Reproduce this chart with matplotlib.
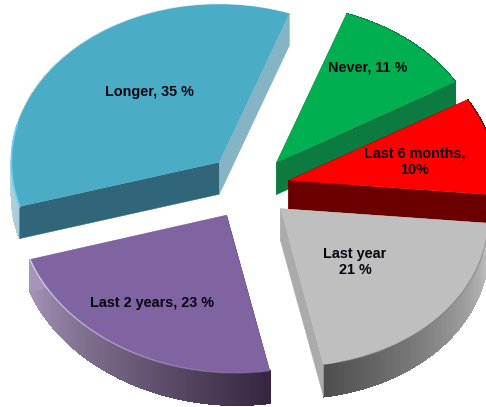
'''Exploded 3D style pie chart, pie() squashed by the axes limits'''

import numpy as np
import matplotlib
matplotlib.use('Agg')
import matplotlib.pyplot as plt
from matplotlib.colors import to_rgb
from matplotlib.patches import Polygon
from matplotlib.transforms import Affine2D

# data, clockwise from the top
labels = ['Never, 11 %', 'Last 6 months,\n10%', 'Last year\n21 %', 'Last 2 years, 23 %', 'Longer, 35 %']
values = [11, 10, 21, 23, 35]

# colours: top surface, the two flat cut faces, ends of the rim gradient
top_colors = ['#00B050', '#FF0000', '#BFBFBF', '#8064A2', '#4BACC6']
low_face = ['#0B7B40', '#6B0000', '#ABABAB', '#A595B8', '#85B4C4']
high_face = ['#0B7B40', '#6B0000', '#C4C4C4', '#37263F', '#31667A']
rim_from = ['#0B7B40', '#6B0000', '#4E4E4E', '#A595B8', '#FFFFFF']
rim_to = ['#0B7B40', '#6B0000', '#C4C4C4', '#37263F', '#A8CCD8']

# layout in pixels of the 486x407 picture
W, H = 486, 407
cx, cy = 250, 187
R = 208
squash = 0.76
depth_px = 32
depth = depth_px / (R * squash)
explode = [0.2, 0.19, 0.2, 0.21, 0.215]
label_px = [(368, 67), (415, 162), (355, 262), (152, 303), (149, 92)]
# the lower slices lean right a bit, perspective of the original
lean = [0, 0, 0.05, 0.05, 0]

plt.rcParams['font.family'] = ['Liberation Sans', 'DejaVu Sans']

fig = plt.figure(figsize=(W / 100, H / 100), dpi=100)
ax = fig.add_axes([0, 0, 1, 1])
wedges, _ = ax.pie(values, explode=explode, startangle=70.3, counterclock=False)
ax.set_aspect('auto')
ax.set_xlim(-cx / R, (W - cx) / R)
ax.set_ylim((cy - H) / (R * squash), cy / (R * squash))


def rim_point(w, theta, s):
    t = np.radians(theta)
    x = w.center[0] + w.r * np.cos(t)
    y = w.center[1] + w.r * np.sin(t)
    return x - s * (y - w.center[1]), y


def face(w, theta, s, color, z):
    x, y = rim_point(w, theta, s)
    x0, y0 = w.center
    pts = [(x0, y0), (x, y), (x, y - depth), (x0, y0 - depth)]
    ax.add_patch(Polygon(pts, closed=True, fc=color, ec=color, lw=0.3, zorder=z))


# slices in back to front order
order = [4, 0, 1, 3, 2]
for z, i in enumerate(order):
    w = wedges[i]
    s = lean[i]
    base = z * 10 + 1

    # rim is a strip of small quads so it can carry a gradient
    thetas = np.linspace(w.theta1, w.theta2, 90)
    c0, c1 = np.array(to_rgb(rim_from[i])), np.array(to_rgb(rim_to[i]))
    for n in range(len(thetas) - 1):
        x1, y1 = rim_point(w, thetas[n], s)
        x2, y2 = rim_point(w, thetas[n + 1], s)
        col = c0 + (c1 - c0) * n / (len(thetas) - 2)
        ax.add_patch(Polygon([(x1, y1), (x2, y2), (x2, y2 - depth), (x1, y1 - depth)],
                             closed=True, fc=col, ec=col, lw=0.5, aa=False, zorder=base))

    face(w, w.theta2, s, high_face[i], base + 1)
    face(w, w.theta1, s, low_face[i], base + 2)

    w.set_transform(Affine2D.from_values(1, 0, -s, 1, s * w.center[1], 0) + ax.transData)
    w.set_facecolor(top_colors[i])
    w.set_edgecolor('none')
    w.set_zorder(base + 3)

# thin highlights along the rim, the purple one fades towards its right end
w = wedges[3]
t = np.linspace(w.theta1, w.theta2, 41)
x, y = rim_point(w, t, lean[3])
for n in range(len(t) - 1):
    ax.plot(x[n:n + 2], y[n:n + 2], color='#D8C8EC', lw=1,
            alpha=1 - 0.95 * n / (len(t) - 2), solid_capstyle='butt', zorder=40)
w = wedges[4]
x, y = rim_point(w, np.linspace(w.theta2 - 30, w.theta2, 30), lean[4])
ax.plot(x, y, color='#6CD0EA', lw=1.2, zorder=20)
w = wedges[2]
x, y = rim_point(w, np.linspace(w.theta1 + 5, w.theta2, 40), lean[2])
ax.plot(x, y, color='#707070', lw=1, alpha=0.45, zorder=50)

for text, (px, py) in zip(labels, label_px):
    fig.text(px / W, 1 - py / H, text, ha='center', va='center', fontsize=10.4,
             fontweight='bold', color='#05050f', linespacing=1.25, zorder=60)

fig.savefig('out.png', dpi=100)
